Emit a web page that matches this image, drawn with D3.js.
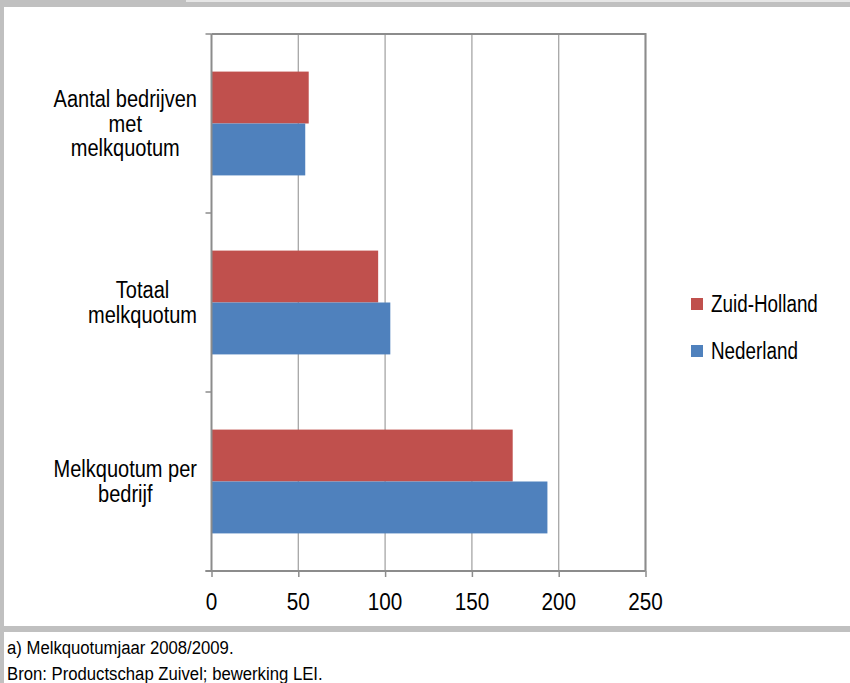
<!DOCTYPE html>
<html>
<head>
<meta charset="utf-8">
<script src="https://cdn.jsdelivr.net/npm/d3@7"></script>
<style>
  html, body { margin: 0; padding: 0; background: #c0c0c0; }
  svg { display: block; }
  text { font-family: "Liberation Sans", Arial, sans-serif; fill: #000; }
</style>
</head>
<body>
<svg id="chart" width="850" height="683"></svg>
<script>
// ---- data ----
const categories = ["Aantal bedrijven met melkquotum", "Totaal melkquotum", "Melkquotum per bedrijf"];
const categoryLines = [["Aantal bedrijven", "met", "melkquotum"], ["Totaal", "melkquotum"], ["Melkquotum per", "bedrijf"]];
const seriesNames = ["Zuid-Holland", "Nederland"];
const zuidHolland = [56, 96, 173.5];
const nederland = [54, 103, 193.5];
const xTicks = [0, 50, 100, 150, 200, 250];
const footnotes = ["a) Melkquotumjaar 2008/2009.", "Bron: Productschap Zuivel; bewerking LEI."];

const colors = {"Zuid-Holland": "#c0504d", "Nederland": "#4f81bd"};
const seriesValues = {"Zuid-Holland": zuidHolland, "Nederland": nederland};

const svg = d3.select("#chart");

// condensed text helper: horizontally squeezed Liberation Sans
function ctext(parent, x, y, str, size, sx, anchor) {
  const gg = parent.append("g").attr("transform", `translate(${x},${y}) scale(${sx},1)`);
  const t = gg.append("text").attr("x", 0).attr("y", 0)
    .style("font-size", size + "px").attr("text-anchor", anchor || "start").text(str);
  return t;
}

// frame
svg.append("rect").attr("x", 0).attr("y", 0).attr("width", 850).attr("height", 683).attr("fill", "#c0c0c0");
svg.append("rect").attr("x", 186).attr("y", 0).attr("width", 664).attr("height", 2).attr("fill", "#e6e6e6");
svg.append("rect").attr("x", 4).attr("y", 7).attr("width", 846).attr("height", 619).attr("fill", "#ffffff");
svg.append("rect").attr("x", 4).attr("y", 632).attr("width", 846).attr("height", 51).attr("fill", "#ffffff");

const pLeft = 211.5, pRight = 645.5, pTop = 34, pBottom = 571;
const x = d3.scaleLinear().domain([0, 250]).range([pLeft, pRight]);
const y = d3.scaleBand().domain(categories).range([pTop, pBottom]).padding(0);
const groupFrac = 0.58;
const sub = d3.scaleBand().domain(seriesNames).range([0, y.bandwidth() * groupFrac]).padding(0);
const groupOffset = y.bandwidth() * (1 - groupFrac) / 2;

// gridlines
const g = svg.append("g");
g.selectAll("line.grid").data(xTicks.filter(d => d > 0)).join("line")
  .attr("class", "grid")
  .attr("x1", d => x(d)).attr("x2", d => x(d))
  .attr("y1", pTop).attr("y2", pBottom)
  .attr("stroke", "#a6a6a6").attr("stroke-width", 1.3);

// plot border (top & right)
g.append("path")
  .attr("d", `M${pLeft},${pTop}H${pRight}V${pBottom}`)
  .attr("fill", "none").attr("stroke", "#8c8c8c").attr("stroke-width", 2);

// bars
categories.forEach((c, i) => {
  seriesNames.forEach(s => {
    g.append("rect")
      .attr("x", x(0))
      .attr("y", y(c) + groupOffset + sub(s))
      .attr("width", x(seriesValues[s][i]) - x(0))
      .attr("height", sub.bandwidth())
      .attr("fill", colors[s]);
  });
});

// x axis
const xAxis = d3.axisBottom(x).tickValues(xTicks).tickSize(6).tickSizeOuter(0).tickFormat("");
const xg = svg.append("g").attr("transform", `translate(0,${pBottom})`).call(xAxis);
xg.select(".domain").attr("stroke", "#8c8c8c").attr("stroke-width", 2)
  .attr("d", `M${pLeft - 6},0H${pRight}`);
xg.selectAll(".tick line").attr("stroke", "#8c8c8c").attr("stroke-width", 1.5);
xTicks.forEach(v => ctext(svg, x(v), 610, String(v), 23, 0.9, "middle"));

// y axis line and ticks at band boundaries
const yBounds = categories.map(c => y(c)).concat([pBottom]);
svg.append("line").attr("x1", pLeft).attr("x2", pLeft).attr("y1", pTop).attr("y2", pBottom)
  .attr("stroke", "#8c8c8c").attr("stroke-width", 2);
svg.selectAll("line.ytick").data(yBounds).join("line")
  .attr("class", "ytick")
  .attr("x1", pLeft - 6).attr("x2", pLeft).attr("y1", d => d).attr("y2", d => d)
  .attr("stroke", "#8c8c8c").attr("stroke-width", 1.5);

// category labels
const lineH = 24.5;
const labelRight = 197;
const labelScale = 0.87;
categories.forEach((c, i) => {
  const lines = categoryLines[i];
  const cy = y(c) + y.bandwidth() / 2;
  const ts = lines.map((ln, j) => ctext(svg, 0, cy + (j - (lines.length - 1) / 2) * lineH + 8, ln, 23, labelScale, "middle"));
  const bw = d3.max(ts, t => t.node().getComputedTextLength()) * labelScale;
  ts.forEach((t, j) => {
    const yy = cy + (j - (lines.length - 1) / 2) * lineH + 8;
    d3.select(t.node().parentNode).attr("transform", `translate(${labelRight - bw / 2},${yy}) scale(${labelScale},1)`);
  });
});

// legend
const legend = svg.append("g");
seriesNames.forEach((s, i) => {
  const ly = 304 + i * 47;
  legend.append("rect").attr("x", 691).attr("y", ly - 6).attr("width", 12).attr("height", 12).attr("fill", colors[s]);
  ctext(legend, 711, ly + 8, s, 23, 0.82, "start");
});

// footnotes
footnotes.forEach((f, i) => {
  ctext(svg, 7, 654 + i * 26, f, 19, 0.88, "start");
});
</script>
</body>
</html>
